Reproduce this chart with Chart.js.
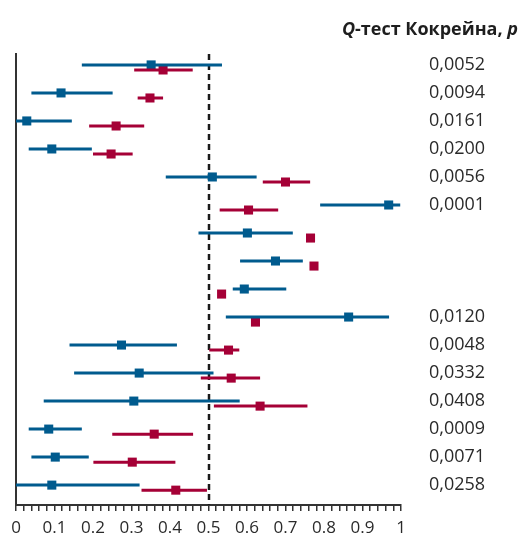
<!DOCTYPE html>
<html>
<head>
<meta charset="utf-8">
<script src="https://cdn.jsdelivr.net/npm/chart.js@4/dist/chart.umd.min.js"></script>
<style>
  html, body { margin: 0; padding: 0; background: #fff; }
  #wrap { width: 524px; height: 535px; }
</style>
</head>
<body>
<div id="wrap"><canvas id="c" width="524" height="535"></canvas></div>
<script>
// Cochran's Q p-values per row (empty rows carry no label)
const pLabels = ['0,0052', '0,0094', '0,0161', '0,0200', '0,0056', '0,0001', '', '', '',
                 '0,0120', '0,0048', '0,0332', '0,0408', '0,0009', '0,0071', '0,0258'];

// Blue series: point estimate and interval bounds
const bluePoint = [0.351, 0.117, 0.028, 0.093, 0.510, 0.968, 0.601, 0.674, 0.593, 0.864, 0.274, 0.320, 0.306, 0.085, 0.102, 0.093];
const blueLow   = [0.171, 0.040, 0.000, 0.033, 0.389, 0.790, 0.474, 0.582, 0.563, 0.545, 0.139, 0.151, 0.072, 0.033, 0.040, 0.000];
const blueHigh  = [0.535, 0.251, 0.145, 0.197, 0.625, 0.998, 0.719, 0.745, 0.702, 0.969, 0.418, 0.513, 0.581, 0.171, 0.189, 0.321];

// Red series: point estimate and interval bounds (null = no interval drawn)
const redPoint = [0.382, 0.348, 0.260, 0.247, 0.700, 0.604, 0.765, 0.774, 0.534, 0.622, 0.552, 0.559, 0.634, 0.359, 0.302, 0.415];
const redLow   = [0.307, 0.316, 0.190, 0.200, 0.641, 0.529, null, null, null, null, 0.502, 0.480, 0.514, 0.250, 0.201, 0.326];
const redHigh  = [0.459, 0.382, 0.333, 0.303, 0.764, 0.681, null, null, null, null, 0.580, 0.634, 0.757, 0.460, 0.414, 0.496];

// Reference value and x-axis ticks
const refValue = 0.5;
const xMajorTicks = [0, 0.1, 0.2, 0.3, 0.4, 0.5, 0.6, 0.7, 0.8, 0.9, 1];
const xMinorStep = 0.02;

const BLUE = '#005b8e';
const RED = '#a50036';
const INK = '#2a2a2a';
const RED_SHIFT = 0.18; // red row sits slightly below the blue one

function intervalSegments(low, high, shift) {
  const out = [];
  low.forEach((lo, i) => {
    if (lo === null || high[i] === null) return;
    out.push({ x: lo, y: i + shift }, { x: high[i], y: i + shift }, { x: null, y: null });
  });
  return out;
}
function pointSeries(values, shift) {
  return values.map((v, i) => ({ x: v, y: i + shift }));
}

const annotate = {
  id: 'annotate',
  beforeDatasetsDraw(chart) {
    const { ctx, chartArea, scales: { x } } = chart;
    const rx = Math.round(x.getPixelForValue(refValue));
    ctx.save();
    ctx.strokeStyle = '#1a1a1a';
    ctx.lineWidth = 2.5;
    ctx.setLineDash([6, 4]);
    ctx.beginPath();
    ctx.moveTo(rx, chartArea.top);
    ctx.lineTo(rx, chartArea.bottom);
    ctx.stroke();
    ctx.restore();
  },
  afterDraw(chart) {
    const { ctx, scales: { y } } = chart;
    ctx.save();
    ctx.fillStyle = INK;
    ctx.font = '18px "Open Sans"';
    ctx.textAlign = 'left';
    ctx.textBaseline = 'middle';
    pLabels.forEach((t, i) => {
      if (t) ctx.fillText(t, 429, y.getPixelForValue(i) - 0.5);
    });
    // Title: "Q-тест Кокрейна, p" with italic Q and p
    const parts = [
      { t: 'Q', f: 'italic bold 18px "Open Sans"' },
      { t: '-тест Кокрейна, ', f: 'bold 18px "Open Sans"' },
      { t: 'p', f: 'italic bold 18px "Open Sans"' }
    ];
    let total = 0;
    parts.forEach(p => { ctx.font = p.f; p.w = ctx.measureText(p.t).width; total += p.w; });
    let cx = 518 - total;
    ctx.textBaseline = 'alphabetic';
    ctx.fillStyle = '#1e1e1e';
    parts.forEach(p => { ctx.font = p.f; ctx.fillText(p.t, cx, 35); cx += p.w; });
    ctx.restore();
  }
};

new Chart(document.getElementById('c'), {
  type: 'scatter',
  data: {
    datasets: [
      { data: intervalSegments(blueLow, blueHigh, 0), showLine: true, borderColor: BLUE, borderWidth: 3,
        pointRadius: 0, spanGaps: false, borderCapStyle: 'butt' },
      { data: intervalSegments(redLow, redHigh, RED_SHIFT), showLine: true, borderColor: RED, borderWidth: 3,
        pointRadius: 0, spanGaps: false, borderCapStyle: 'butt' },
      { data: pointSeries(bluePoint, 0), pointStyle: 'rect', pointRadius: 6.4, borderWidth: 0,
        backgroundColor: BLUE, pointBackgroundColor: BLUE },
      { data: pointSeries(redPoint, RED_SHIFT), pointStyle: 'rect', pointRadius: 6.4, borderWidth: 0,
        backgroundColor: RED, pointBackgroundColor: RED }
    ]
  },
  options: {
    responsive: false,
    animation: false,
    events: [],
    layout: { padding: { top: 54, left: 16, right: 123, bottom: 0 } },
    plugins: { legend: { display: false }, tooltip: { enabled: false } },
    scales: {
      x: {
        type: 'linear', min: 0, max: 1,
        afterBuildTicks(s) {
          const n = Math.round(1 / xMinorStep);
          s.ticks = Array.from({ length: n + 1 }, (_, i) => ({ value: +(i * xMinorStep).toFixed(2) }));
        },
        afterFit(s) { s.height = 30; },
        grid: { drawOnChartArea: false, drawTicks: true, tickLength: 6, color: '#333', lineWidth: 1.5 },
        border: { display: true, color: '#333', width: 2 },
        ticks: {
          autoSkip: false, maxRotation: 0, minRotation: 0, padding: 7,
          color: INK, font: { family: 'Open Sans', size: 17 },
          callback(v) {
            const m = xMajorTicks.find(t => Math.abs(t - v) < 1e-6);
            return m === undefined ? '' : String(m);
          }
        }
      },
      y: {
        type: 'linear', reverse: true, min: -0.39, max: 15.71,
        afterFit(s) { s.width = 0; },
        grid: { display: false },
        border: { display: true, color: '#333', width: 2 },
        ticks: { display: false }
      }
    }
  },
  plugins: [annotate]
});
</script>
</body>
</html>
